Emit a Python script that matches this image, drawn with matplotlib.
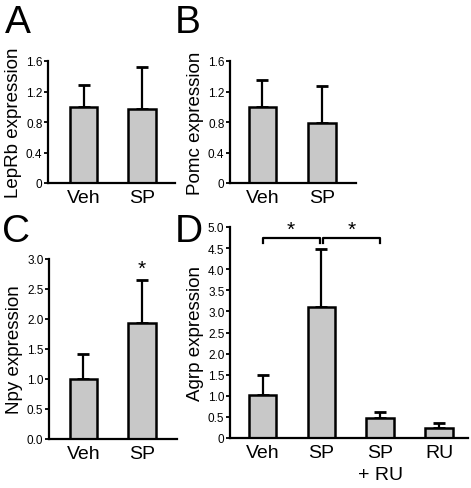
import matplotlib
matplotlib.use("Agg")
import matplotlib.pyplot as plt

# -----------------------------
# DATA
# -----------------------------

groups_ab = ["Veh", "SP"]
leprb_mean = [1.00, 0.97]
leprb_err = [0.29, 0.55]
pomc_mean = [1.00, 0.79]
pomc_err = [0.35, 0.48]
npy_mean = [1.00, 1.93]
npy_err = [0.42, 0.72]

groups_d = ["Veh", "SP", "SP\n+ RU", "RU"]
agrp_mean = [1.02, 3.10, 0.48, 0.24]
agrp_err = [0.47, 1.38, 0.14, 0.12]

plt.rcParams["font.family"] = ["Liberation Sans", "DejaVu Sans"]

W, H = 471, 489
fig = plt.figure(figsize=(W / 100, H / 100), dpi=100)

bar_color = "#c8c8c8"


def px_axes(left, right, bottom, top):
    return fig.add_axes([left / W, 1 - bottom / H, (right - left) / W, (bottom - top) / H])


def panel(ax, names, means, errs, ylim, ticks, ticklabels, ylabel, xlim):
    x = list(range(len(names)))
    ax.bar(x, means, width=0.47, color=bar_color, edgecolor="black", linewidth=1.8, zorder=2)
    ax.errorbar(x, means, yerr=[[0] * len(errs), errs], fmt="none", ecolor="black",
                elinewidth=1.6, capsize=4, capthick=2, zorder=1)
    ax.set_xlim(*xlim)
    ax.set_ylim(*ylim)
    ax.set_yticks(ticks)
    ax.set_yticklabels(ticklabels, fontsize=8.5)
    ax.set_xticks(x)
    ax.set_xticklabels(names, fontsize=14, linespacing=1.4)
    ax.tick_params(axis="x", length=0, pad=4)
    ax.tick_params(axis="y", direction="out", length=3, width=1.3, pad=1)
    for s in ["top", "right"]:
        ax.spines[s].set_visible(False)
    for s in ["left", "bottom"]:
        ax.spines[s].set_linewidth(1.6)
    ax.set_ylabel(ylabel, fontsize=13.5, labelpad=3)


# A
axA = px_axes(48, 175, 184, 62)
panel(axA, groups_ab, leprb_mean, leprb_err, (0, 1.6), [0, 0.4, 0.8, 1.2, 1.6],
      ["0", "0.4", "0.8", "1.2", "1.6"], "LepRb expression", (-0.607, 1.564))

# B
axB = px_axes(230, 356, 184, 62)
panel(axB, groups_ab, pomc_mean, pomc_err, (0, 1.6), [0, 0.4, 0.8, 1.2, 1.6],
      ["0", "0.4", "0.8", "1.2", "1.6"], "Pomc expression", (-0.546, 1.571))

# C
axC = px_axes(49, 177, 440, 260)
c_ticks = [0, 0.5, 1.0, 1.5, 2.0, 2.5, 3.0]
panel(axC, groups_ab, npy_mean, npy_err, (0, 3.0), c_ticks,
      ["%.1f" % t for t in c_ticks], "Npy expression", (-0.59, 1.6))
axC.text(1, npy_mean[1] + npy_err[1] + 0.03, "*", ha="center", va="bottom", fontsize=15)

# D
axD = px_axes(230, 468, 439, 228)
d_ticks = [0, 0.5, 1.0, 1.5, 2.0, 2.5, 3.0, 3.5, 4.0, 4.5, 5.0]
panel(axD, groups_d, agrp_mean, agrp_err, (0, 5.0), d_ticks,
      ["0"] + ["%.1f" % t for t in d_ticks[1:]], "Agrp expression", (-0.553, 3.49))
br_y, br_drop = 4.75, 0.14
for x0, x1 in [(0, 0.97), (1.03, 2)]:
    axD.plot([x0, x0, x1, x1], [br_y - br_drop, br_y, br_y, br_y - br_drop],
             color="black", lw=1.6, clip_on=False)
    axD.text((x0 + x1) / 2, br_y - 0.02, "*", ha="center", va="bottom", fontsize=15)

# panel letters
for letter, lx, ly in [("A", 5, 33), ("B", 175, 33), ("C", 2, 242), ("D", 175, 242)]:
    fig.text(lx / W, 1 - ly / H, letter, fontsize=28, va="baseline", ha="left")

fig.savefig("out.png", dpi=100)
